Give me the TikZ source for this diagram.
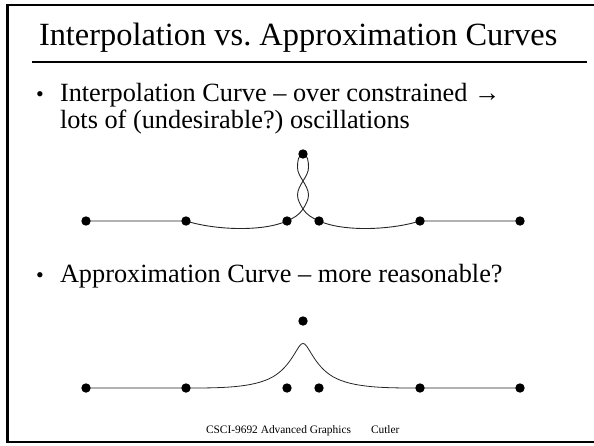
\documentclass[tikz,border=0pt]{standalone}
\usepackage{fontspec}
\setmainfont{Liberation Serif}
\frenchspacing
\begin{document}
\begin{tikzpicture}[x=1pt,y=-1pt,
  dot/.style={circle,fill=black,inner sep=0pt,minimum size=9.4pt},
  txt/.style={anchor=base west,inner sep=0pt,outer sep=0pt},
  body/.style={txt,font=\fontsize{26.3}{32}\selectfont},
  bul/.style={txt,font=\fontsize{22}{26}\selectfont},
  foot/.style={txt,font=\fontsize{11.4}{14}\selectfont},
  curve/.style={line width=0.9pt,black!85},
  frameline/.style={line width=2.6pt,black}]
\useasboundingbox (0,0) rectangle (594,445);
% frame
\draw[frameline] (600,5) -- (7.5,5) -- (7.5,442) -- (600,442);
% title
\node[txt,font=\fontsize{32.4}{40}\selectfont] (title) at (39,45) {Interpolation vs.\ Approximation Curves};
\draw[line width=2.2pt] (32,62) -- (587,62);
% bullets
\node[bul] (b1) at (36,101) {•};
\node[body] (t1) at (60,101) {Interpolation Curve – over constrained →};
\node[body] (t2) at (60,128) {lots of (undesirable?) oscillations};
\node[bul] (b2) at (36,282) {•};
\node[body] (t3) at (60,282) {Approximation Curve – more reasonable?};
% footer
\node[foot] (f1) at (206,433) {CSCI-9692 Advanced Graphics};
\node[foot] (f2) at (371,433) {Cutler};
% interpolation control points
\coordinate (a0) at (86,221);
\coordinate (a1) at (186,221);
\coordinate (a2) at (287,221);
\coordinate (a3) at (303,154);
\coordinate (a4) at (319,221);
\coordinate (a5) at (420,221);
\coordinate (a6) at (520,221);
\draw[curve] (a0) -- (a1)
  .. controls (215,230) and (262,232) .. (a2)
  .. controls (293.1,218.3) and (299.6,214.8) .. (303,209)
  .. controls (305.6,204.7) and (308.5,200) .. (308.5,195)
  .. controls (308.5,190) and (305.6,185.3) .. (303,181)
  .. controls (300.4,176.7) and (297.5,172.5) .. (297.5,167.5)
  .. controls (297.5,162.5) and (298,154) .. (a3)
  .. controls (308,154) and (308.5,162.5) .. (308.5,167.5)
  .. controls (308.5,172.5) and (305.6,176.7) .. (303,181)
  .. controls (300.4,185.3) and (297.5,190) .. (297.5,195)
  .. controls (297.5,200) and (300.4,204.7) .. (303,209)
  .. controls (306.4,214.8) and (312.9,218.3) .. (a4)
  .. controls (344,232) and (391,230) .. (a5) -- (a6);
\foreach \i in {0,...,6} \node[dot] (ip\i) at (a\i) {};
% approximation control points
\coordinate (q0) at (86,388);
\coordinate (q1) at (186,388);
\coordinate (q2) at (287,388);
\coordinate (q3) at (303,321);
\coordinate (q4) at (319,388);
\coordinate (q5) at (420,388);
\coordinate (q6) at (520,388);
\draw[curve,line width=0.8pt] (q0) -- (186.17,388)
  .. controls (219.67,388) and (253.33,388) .. (272.83,376.83)
  .. controls (292.33,365.67) and (297.67,343.33) .. (303,343.33)
  .. controls (308.33,343.33) and (313.67,365.67) .. (333.17,376.83)
  .. controls (352.67,388) and (386.33,388) .. (419.83,388) -- (q6);
\foreach \i in {0,...,6} \node[dot] (ap\i) at (q\i) {};
\end{tikzpicture}
\end{document}
